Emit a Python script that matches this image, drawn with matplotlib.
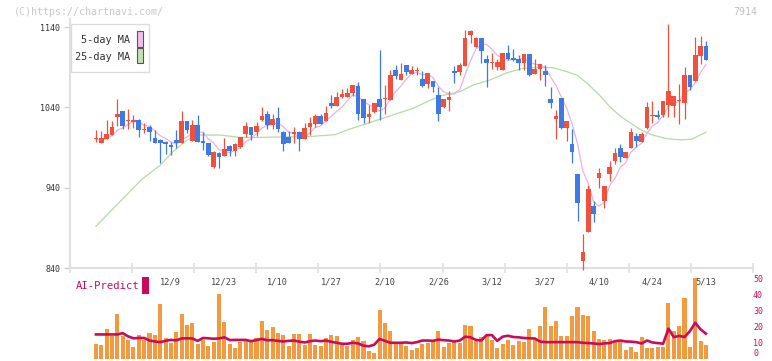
import matplotlib
matplotlib.use('Agg')
import matplotlib.pyplot as plt
import numpy as np
from matplotlib.patches import Rectangle
import matplotlib.transforms as mtransforms

W, H = 772, 361
MONO = 'DejaVu Sans Mono'

# ---------------- data ----------------
date_idx = [14, 24, 34, 44, 54, 64, 74, 84, 94, 104, 114]
date_labels = ['12/9', '12/23', '1/10', '1/27', '2/10', '2/26', '3/12', '3/27', '4/10', '4/24', '5/13']

opens = [1001, 995, 1000.6, 1005.5, 1028.4, 1035.4, 1023, 1021.3, 1024.2, 1011.8,
         1015.5, 1001.4, 999.3, 996.4, 993.1, 999.3, 995.2, 1023, 998, 1018,
         998, 995.2, 966.1, 982.7, 979.8, 991.8, 986, 991, 1006.8, 1015.5,
         1009.7, 1024.3, 1031.7, 1018, 1026.8, 1009.3, 1003.5, 1006.4, 1009.3, 1001,
         1016, 1019.3, 1029.2, 1023, 1045.9, 1042.1, 1052.5, 1052.5, 1057.5, 1066.6,
         1050.4, 1028.4, 1034.2, 1050.4, 1050, 1049.1, 1086.5, 1074, 1092.7, 1081.5,
         1085, 1074.8, 1069, 1072.8, 1055.3, 1040, 1049.1, 1085.6, 1084.4, 1091.9,
         1130, 1115.5, 1125.9, 1099.7, 1094.8, 1089.8, 1086.5, 1107.2, 1101, 1100.2,
         1095.6, 1106.4, 1081.1, 1087.3, 1085.6, 1050.4, 1025, 1051.2, 1014.7, 994.4,
         957, 849.1, 884.4, 917.6, 952.4, 923.8, 956.6, 973.6, 989, 976.5,
         989, 1004.3, 997.3, 1014, 1029.2, 1030.5, 1030.5, 1043, 1042, 1047.9,
         1045.8, 1080.2, 1072.8, 1104.3, 1116.3]

highs = [1012, 1010, 1024, 1023, 1050, 1035.4, 1038, 1031, 1026, 1021,
         1018, 1011.8, 1000, 998, 997, 1011.8, 1035.4, 1023, 1024.2, 1030.4,
         1009.7, 996, 986, 984, 1001.4, 993, 995.2, 1003, 1022, 1016,
         1022, 1041, 1035.5, 1031.7, 1041, 1010, 1010.6, 1016, 1010, 1021,
         1028.4, 1031.3, 1031.3, 1041.7, 1055.4, 1059.5, 1062.9, 1063.7, 1067.8, 1071.1,
         1050.4, 1043, 1045.8, 1111.4, 1067.8, 1086.5, 1092.7, 1095.6, 1092.7, 1091.5,
         1089.8, 1085.2, 1082.3, 1072.8, 1065.7, 1050.4, 1060.3, 1091.4, 1095.6, 1136.3,
         1136.3, 1127.1, 1125.9, 1105.1, 1107.2, 1099.7, 1108, 1117.6, 1112.2, 1105.1,
         1106.4, 1106.4, 1099.7, 1093.5, 1092.7, 1064.9, 1036.7, 1051.2, 1023, 1013,
         957, 882.3, 943.3, 923.4, 964.1, 942.5, 973.6, 989, 994.4, 984.8,
         1014.7, 1008.5, 1008.9, 1047, 1047.9, 1036.7, 1047.9, 1143.7, 1054.1, 1069,
         1089.8, 1080.2, 1127.1, 1128.8, 1122.6]

lows = [997, 995, 1000, 1005, 1017, 1013, 1013, 1014, 1003.5, 1007.6,
        998, 995, 970.3, 982, 980.6, 989, 995, 1008.4, 998, 997,
        987, 980, 965, 964, 979.8, 979.4, 979.4, 990, 1003.5, 999.3,
        1004.3, 1023.4, 1012.6, 1012.6, 1009.7, 986, 996, 996, 986, 1001,
        1005.6, 1016, 1018.9, 1023, 1039.6, 1042.1, 1052, 1052.5, 1054.6, 1024.3,
        1020.9, 1020.9, 1033, 1024.2, 1031.3, 1049, 1075.3, 1074, 1080.2, 1081.5,
        1080.2, 1065.7, 1064.5, 1059.5, 1023.4, 1039.6, 1035.8, 1070.7, 1080.2, 1091,
        1120.5, 1115.5, 1094.8, 1064.9, 1087.7, 1086.5, 1086.5, 1098.9, 1098, 1086.5,
        1086.5, 1079, 1081, 1074, 1066.6, 1039.6, 1001, 1013, 998.5, 971.1,
        898.9, 838, 884.4, 897.7, 939.2, 914.3, 948.3, 969.5, 972.4, 976.5,
        989, 990.2, 997.3, 1013, 1020.1, 1025.5, 1028.4, 1028.4, 1028.4, 1019.3,
        1025.5, 1061.6, 1072.8, 1094, 1098.9]

closes = [1002, 1002, 1006.4, 1015.5, 1031.3, 1017.2, 1023.5, 1024.2, 1011.8, 1012.2,
          1009.7, 995.2, 995.2, 993.9, 991, 995.2, 1023, 1011.8, 1018, 997.2,
          995.2, 980.6, 984.8, 978.6, 988.1, 986, 994.3, 1002.6, 1016.7, 1005.5,
          1017.2, 1029.2, 1018, 1025.5, 1012.6, 994, 996, 1009.7, 1001, 1014.3,
          1021, 1029.2, 1018.9, 1033.4, 1042.1, 1052.5, 1056.2, 1058.3, 1067.8, 1031.3,
          1026.3, 1032.1, 1045.8, 1040.8, 1051, 1080.2, 1079.4, 1081.5, 1083.6, 1086.5,
          1085.6, 1066.6, 1082.3, 1065.7, 1031.7, 1050.4, 1052.9, 1082.3, 1092.7, 1125.9,
          1135, 1125.9, 1110.5, 1094.8, 1095.5, 1096.8, 1107.2, 1099.7, 1098.9, 1095.6,
          1106.4, 1080.2, 1087.7, 1093.5, 1080.2, 1045, 1029.2, 1014.7, 1023, 984.8,
          921.4, 860.4, 938.3, 907.2, 958.7, 942.5, 966.1, 982.7, 978.6, 984.8,
          1008.9, 998.5, 1006.4, 1040.5, 1029.7, 1028.4, 1047.9, 1060.3, 1054.1, 1048.5,
          1080.2, 1065.7, 1105.1, 1116.3, 1098.9]

ma5 = [1000, 999, 1001, 1005, 1011.4, 1014.5, 1018.8, 1022.3, 1021.6, 1017.8,
       1016.3, 1010.6, 1004.8, 1001.2, 997, 994.1, 999.7, 1003, 1007.8, 1009,
       1009, 1000.6, 995.2, 987.3, 985.5, 983.6, 986.4, 989.9, 997.5, 1001,
       1007.3, 1014.2, 1017.3, 1019.1, 1020.5, 1015.9, 1009.2, 1007.6, 1002.7, 1003,
       1008.4, 1015, 1016.9, 1023.4, 1028.9, 1035.2, 1040.6, 1048.5, 1055.4, 1053.2,
       1048, 1043.2, 1040.7, 1035.3, 1039.2, 1050, 1059.4, 1066.6, 1075.1, 1082.2,
       1083.3, 1080.8, 1080.9, 1077.3, 1066.4, 1059.3, 1056.6, 1056.6, 1062, 1080.8,
       1097.8, 1112.4, 1118, 1118.4, 1112.3, 1104.7, 1101, 1098.8, 1099.6, 1099.6,
       1101.6, 1096.2, 1093.8, 1092.7, 1089.6, 1077.3, 1067.1, 1052.5, 1038.4, 1019.3,
       994.6, 960.9, 945.6, 922.4, 917.2, 921.4, 942.6, 951.4, 965.7, 970.9,
       984.2, 990.7, 995.4, 1007.8, 1016.8, 1020.7, 1030.6, 1041.4, 1044.1, 1047.8,
       1058.2, 1061.8, 1070.7, 1083.2, 1093.2]

ma25_x = [0, 8.5, 12, 14.4, 17, 19.4, 23.2, 27, 30.7, 33.5, 39.6, 44.7, 47, 50.7,
          55.5, 59.3, 61.9, 64.3, 68, 70.5, 73.6, 76.8, 79.8, 83, 85.4, 88, 89.9,
          91.8, 94.2, 96, 98, 101.7, 104, 106.6, 109.5, 111.4, 114]
ma25_v = [892, 950, 968, 985, 999, 1005.5, 1005.5, 1002.6, 1002.6, 1003, 1003.5, 1006,
          1012, 1020, 1030.5, 1038.8, 1047, 1054, 1059.5, 1067.8, 1074, 1083, 1088.5,
          1089.8, 1089.4, 1084.4, 1080, 1070, 1054.5, 1041, 1029, 1012.5, 1005.6, 1001,
          999.5, 1000.5, 1009]

volume = [8.8, 8.2, 18.2, 13.8, 27.7, 13.8, 11.3, 6.9, 14.5, 11.3,
          15.7, 14.5, 34, 13, 9.4, 16.5, 27.7, 20.8, 22, 8.8,
          11.3, 7.5, 10, 40.3, 22.8, 8.8, 6.3, 10, 11.3, 11.5,
          13, 23.1, 17.9, 19.4, 16.2, 14.8, 7.9, 15.4, 15.4, 8.5,
          15.4, 8.5, 7.9, 12.7, 14.8, 14.2, 9.9, 7.9, 11.6, 13.7,
          11.2, 4.9, 3.7, 30.5, 22.1, 16.9, 9.9, 9.9, 7.9, 5.3,
          6.8, 9.1, 9.9, 11.6, 16.9, 7.4, 9.9, 11.6, 9.9, 21.1,
          20, 11.2, 13.3, 14.8, 11.6, 6.8, 9.1, 11.6, 8.5, 10.6,
          10, 18.5, 12.7, 20, 32.2, 20.4, 23.2, 14.1, 14.1, 26.3,
          32.2, 27.4, 26.8, 16.9, 12.1, 11.6, 12.1, 10, 10, 5.3,
          7.4, 4.2, 13.1, 6.8, 6.8, 7.4, 7.4, 34.7, 16.9, 20.4,
          37.5, 7.4, 50, 10.6, 8.5]

ai_predict = [15, 15, 15, 15, 15, 15.8, 13.8, 12.6, 12.8, 12.8,
              11.2, 10.6, 10.2, 11, 11.6, 11.3, 12.5, 12.6, 12.5, 11,
              12.8, 12.6, 12.3, 12.5, 13.2, 11.5, 11.6, 11.6, 11.6, 10.8,
              11.5, 12.2, 11.4, 11.4, 11, 10.6, 11, 11.2, 10.5, 10,
              10.8, 11.2, 10.8, 11.2, 10.4, 9.8, 9.2, 9.2, 9.8, 9.4,
              8, 7.6, 8.6, 12.2, 11, 9.8, 9.8, 9.8, 10, 9.6,
              10.2, 11.2, 11.2, 11, 11.8, 11.4, 11.2, 10.6, 11.2, 13.6,
              13.2, 11.6, 11.2, 14.6, 14.6, 11, 13.6, 14.2, 13.4, 13.2,
              12.8, 12.6, 12.5, 10.6, 10.2, 10.2, 10.2, 10.2, 10.2, 10.2,
              10.2, 9.8, 9.6, 9.4, 9, 9.4, 9.6, 10.8, 11.2, 10.6,
              10.5, 10.2, 9.4, 11.2, 10, 9.6, 9.2, 18.6, 13.3, 14.1,
              13.4, 17, 22.3, 18.2, 15.5]

price_ticks = [840, 940, 1040, 1140]
vol_ticks = [0, 10, 20, 30, 40, 50]

# ---------------- styling ----------------
RED = '#f0503c'
BLUE = '#3f79e6'
ORANGE = '#f3993f'
CRIMSON = '#cc0a5c'
PINK = '#e8b2e8'
GREEN = '#b4dba4'
AXGRAY = '#e0e0e0'


def fx(px):
    return px / W


def fy(py):
    return 1 - py / H


fig = plt.figure(figsize=(W / 100, H / 100), dpi=100)

n = len(closes)
idx = np.arange(n)
XL = (70 - 96) / 5.35
XR = (753 - 96) / 5.35

# ---------------- main price axes ----------------
ax = fig.add_axes([fx(70), fy(268), fx(753) - fx(70), fy(19) - fy(268)])
ax.set_xlim(XL, XR)
ax.set_ylim(840, 840 + (268 - 19) * 300 / 241)
ax.patch.set_visible(False)
for s in ['top', 'right']:
    ax.spines[s].set_visible(False)
for s in ['left', 'bottom']:
    ax.spines[s].set_color(AXGRAY)
    ax.spines[s].set_linewidth(1.5)

ax.set_yticks(price_ticks)
ax.set_yticklabels([str(t) for t in price_ticks], fontfamily=MONO)
ax.tick_params(axis='y', direction='out', length=4, width=1, color='#d0d0d0',
               labelsize=6, labelcolor='#333333', pad=3)
ax.set_xticks(np.linspace(XL, XR, 12))
ax.set_xticklabels([])
ax.tick_params(axis='x', direction='inout', length=7, width=1.2, color=AXGRAY)

o = np.array(opens)
c = np.array(closes)
h = np.array(highs)
l = np.array(lows)
up = c >= o
cols = np.where(up, RED, BLUE)
body_bottom = np.minimum(o, c)
body_h = np.maximum(np.abs(c - o), 1.3)

ax.plot(ma25_x, ma25_v, color=GREEN, lw=0.9, zorder=2)
ax.plot(idx, ma5, color=PINK, lw=0.9, zorder=2)
ax.vlines(idx, l, h, colors=cols, linewidth=0.9, zorder=3, clip_on=False)
ax.bar(idx, body_h, bottom=body_bottom, width=0.86, color=cols, linewidth=0, zorder=4)

# date labels (sit in the volume panel area)
trans = mtransforms.blended_transform_factory(ax.transData, fig.transFigure)
for di, lab in zip(date_idx, date_labels):
    ax.text(di, fy(282), lab, transform=trans, ha='center', va='center',
            fontsize=6.2, color='#444444', fontfamily=MONO, clip_on=False, zorder=1)

# ---------------- volume axes ----------------
axv = fig.add_axes([fx(70), fy(358.5), fx(753) - fx(70), fy(275) - fy(358.5)])
axv.set_xlim(XL, XR)
axv.set_ylim(0, (358.5 - 275) / 1.604)
axv.patch.set_visible(False)
for s in axv.spines.values():
    s.set_visible(False)
axv.set_xticks([])
axv.yaxis.tick_right()
axv.set_yticks(vol_ticks)
axv.set_yticklabels([str(t) for t in vol_ticks], fontfamily=MONO)
axv.tick_params(axis='y', length=0, pad=0, labelsize=6, labelcolor=CRIMSON)
# nudge the "0" label up slightly so it stays inside the canvas
zero_lab = axv.get_yticklabels()[0]
zero_lab.set_va('bottom')
axv.bar(idx, volume, width=0.75, color=ORANGE, linewidth=0, zorder=2)
axv.plot(idx, ai_predict, color=CRIMSON, lw=1.9, zorder=3, solid_joinstyle='round')

# ---------------- annotations ----------------
fig.text(fx(14), fy(12), '(C)https://chartnavi.com/', fontsize=7.2, color='#c8c8c8',
         fontfamily=MONO, ha='left', va='center')
fig.text(fx(757), fy(12), '7914', fontsize=7.2, color='#c0c0c0',
         fontfamily=MONO, ha='right', va='center')

fig.text(fx(76), fy(286), 'AI-Predict', fontsize=7.6, color=CRIMSON,
         fontfamily=MONO, ha='left', va='center')
fig.patches.append(Rectangle((fx(142), fy(294)), fx(149) - fx(142), fy(277) - fy(294),
                             transform=fig.transFigure, facecolor=CRIMSON,
                             edgecolor='none', zorder=5))

# legend box
fig.patches.append(Rectangle((fx(70.5), fy(71.5)), fx(148.5) - fx(70.5), fy(24) - fy(71.5),
                             transform=fig.transFigure, facecolor='white',
                             edgecolor='#dcdcdc', linewidth=1, zorder=5))
fig.text(fx(130), fy(40), '5-day MA', fontsize=7.4, color='#333333',
         fontfamily=MONO, ha='right', va='center', zorder=6)
fig.text(fx(130), fy(56.5), '25-day MA', fontsize=7.4, color='#333333',
         fontfamily=MONO, ha='right', va='center', zorder=6)
fig.patches.append(Rectangle((fx(136.5), fy(46.5)), fx(142.5) - fx(136.5), fy(31.5) - fy(46.5),
                             transform=fig.transFigure, facecolor='#f0bff0',
                             edgecolor='#555555', linewidth=0.8, zorder=6))
fig.patches.append(Rectangle((fx(136.5), fy(63)), fx(142.5) - fx(136.5), fy(48.5) - fy(63),
                             transform=fig.transFigure, facecolor='#c2e2b2',
                             edgecolor='#555555', linewidth=0.8, zorder=6))

fig.savefig('out.png', dpi=100, facecolor='white')
